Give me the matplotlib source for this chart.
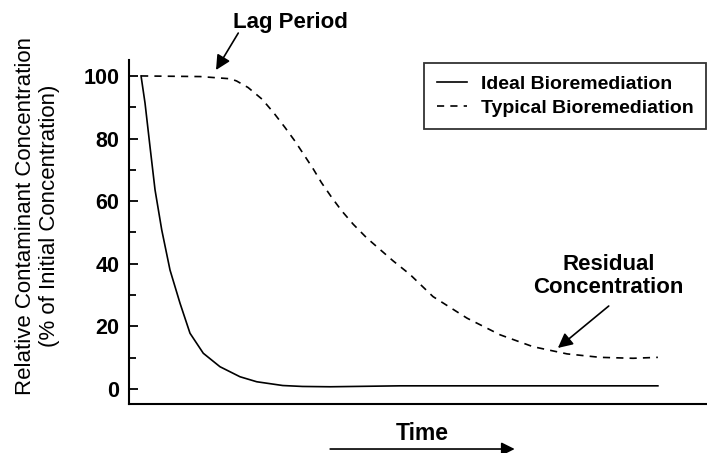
import numpy as np
import matplotlib
matplotlib.use("Agg")
import matplotlib.pyplot as plt
from matplotlib.ticker import MultipleLocator

plt.rcParams['font.family'] = ['Liberation Sans', 'DejaVu Sans']

# curves (time in arbitrary units, concentration in %)
time_ideal = [2.08, 2.77, 3.63, 4.5, 5.66, 7.09, 8.82, 10.55, 12.85, 15.74, 19.2,
              22.1, 26.6, 30.0, 34.8, 46.9, 64.2, 91.5]
conc_ideal = [100, 91.3, 77.4, 63.6, 50.8, 38.0, 27.4, 17.8, 11.4, 7.1, 3.9,
              2.3, 1.1, 0.8, 0.7, 1.0, 1.0, 1.0]

time_typical = [2.08, 12.3, 17.5, 18.6, 20.6, 23.0, 25.0, 27.0, 28.7, 30.2, 31.9, 33.3,
                35.1, 36.8, 38.8, 41.1, 43.4, 45.7, 48.6, 52.6, 58.5, 64.2, 69.9,
                75.8, 81.5, 87.2, 91.5]
conc_typical = [100, 99.8, 99.1, 98.4, 96.3, 92.6, 88.3, 83.5, 79.2, 75.0, 70.2, 65.9,
                61.1, 56.9, 52.6, 48.3, 44.6, 40.9, 36.6, 29.5, 22.6, 17.3, 13.5,
                11.2, 10.1, 9.8, 10.1]

y_ticks = [0, 20, 40, 60, 80, 100]

fig = plt.figure(figsize=(7.07, 4.53), dpi=100)
ax = fig.add_axes([0.1825, 0.1082, 0.8175, 0.7594])

ax.plot(time_ideal, conc_ideal, color='black', lw=1.2, ls='-', label='Ideal Bioremediation')
ax.plot(time_typical, conc_typical, color='black', lw=1.2, ls=(0, (4.3, 3.7)),
        label='Typical Bioremediation')

ax.set_xlim(0, 100)
ax.set_ylim(-4.8, 105.1)
ax.set_yticks(y_ticks)
ax.yaxis.set_minor_locator(MultipleLocator(10))
ax.set_xticks([])
ax.tick_params(axis='y', which='major', direction='in', length=6.5, width=1.3,
               labelsize=15.5, pad=7)
ax.tick_params(axis='y', which='minor', direction='in', length=5, width=1.3)
for lab in ax.get_yticklabels():
    lab.set_fontweight('bold')

ax.spines['top'].set_visible(False)
ax.spines['right'].set_visible(False)
ax.spines['left'].set_linewidth(1.5)
ax.spines['bottom'].set_linewidth(1.5)

fig.text(0.053, 0.523, 'Relative Contaminant Concentration\n(% of Initial Concentration)',
         rotation=90, ha='center', va='center', multialignment='center',
         fontsize=16, linespacing=1.2)

leg = ax.legend(loc='upper right', bbox_to_anchor=(0.9985, 0.861), bbox_transform=fig.transFigure,
                borderaxespad=0, frameon=True, fancybox=False, edgecolor='black',
                handlelength=1.55, handletextpad=0.7, borderpad=0.65, labelspacing=0.3,
                prop={'weight': 'bold', 'size': 14})
leg.get_frame().set_linewidth(1.3)

# annotations
ax.text(27.9, 117.0, 'Lag Period', ha='center', va='center', fontsize=16,
        fontweight='bold', clip_on=False)
ax.annotate('', xy=(15.05, 101.9), xytext=(18.9, 113.7), annotation_clip=False,
            arrowprops=dict(arrowstyle='-|>', color='black', lw=1.2, mutation_scale=22,
                            shrinkA=0, shrinkB=0))

ax.text(83.0, 36.0, 'Residual\nConcentration', ha='center', va='center', fontsize=16,
        fontweight='bold', linespacing=1.15)
ax.annotate('', xy=(74.2, 13.1), xytext=(83.0, 26.5),
            arrowprops=dict(arrowstyle='-|>', color='black', lw=1.2, mutation_scale=22,
                            shrinkA=0, shrinkB=0))

fig.text(0.597, 0.044, 'Time', ha='center', va='center', fontsize=16.5, fontweight='bold')
ax.annotate('', xy=(0.728, 0.0088), xytext=(0.467, 0.0088),
            xycoords='figure fraction', textcoords='figure fraction', annotation_clip=False,
            arrowprops=dict(arrowstyle='-|>', color='black', lw=1.2, mutation_scale=20,
                            shrinkA=0, shrinkB=0))

fig.savefig('out.png', dpi=100)
